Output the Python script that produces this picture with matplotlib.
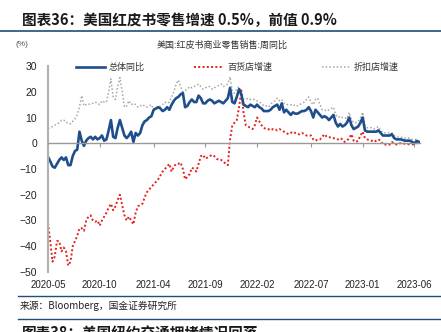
import numpy as np
import matplotlib
matplotlib.use("Agg")
import matplotlib.pyplot as plt
import matplotlib.transforms as mtransforms

plt.rcParams['font.family'] = ['Noto Sans CJK SC', 'DejaVu Sans']

# weekly y/y growth (%), 2020-05 .. 2023-06
total_yoy = [
    -5.3, -7, -9, -9.5, -8, -6.5, -5.5, -6.5, -5.5, -8.5,
    -8.5, -5, -3, -2.5, 4.5, 1, -1, 1, 2, 2.5,
    1.5, 2.5, 1.5, 2, 3, 1, 1.5, 5, 9, 2.5,
    2, 6, 9, 6, 3, 2, 3, 4.5, 0.5, 4,
    3, 4, 7, 8.5, 9, 10, 10.5, 13, 13.5, 14,
    13.5, 12.5, 13, 14, 13, 15, 16.5, 17.5, 18, 19,
    19.5, 14, 14.5, 16, 17, 16, 16, 18.5, 17.5, 15.5,
    15.5, 16.5, 17, 16.5, 15.5, 16, 16.5, 16, 15.5, 16.5,
    17.5, 21.5, 16, 15.5, 18, 21, 19, 15, 14.5, 14,
    15, 14.5, 14, 15, 14, 13.5, 12.5, 12.5, 12.5, 13,
    14, 14.5, 15, 13, 15.5, 12, 13, 12, 11, 12,
    11.5, 11.5, 12, 12.5, 12.5, 13, 14, 12.5, 10, 13,
    12, 11, 10, 10.5, 10, 9, 10, 11, 8, 6.5,
    7.5, 6.5, 7, 8, 10, 7, 5.5, 6, 6.5, 8,
    10, 5, 4.5, 4.5, 4.5, 4.5, 4.5, 5, 4, 3,
    3, 3, 3, 3.5, 2, 1.5, 1.5, 1.5, 1.2, 1,
    1, 1, 0.5, 0, 0.9, 0.5,
]
dept_store = [
    -31, -38, -46, -44, -38, -38, -42, -40.5, -42, -47.5,
    -46, -40, -38, -36, -33, -33, -34, -30, -28.5, -28,
    -30, -30.5, -30, -32, -30, -28.5, -27, -25, -23.5, -26,
    -24.5, -22, -20, -24, -28, -30, -28.5, -30, -31.5, -27,
    -24.5, -24, -23.5, -21, -19, -18, -17, -16, -15, -14,
    -12.5, -11, -10, -9, -8, -11, -9, -8, -8, -7.5,
    -10, -14, -13, -12, -9.5, -10, -11, -8, -5, -4.5,
    -6, -5.5, -5, -4.5, -5, -6, -6.5, -6.5, -7, -8,
    -8.5, 1.5, 7, 8, 9, 14, 20.5, 12, 7, 6.5,
    6, 5.5, 7, 10, 8.5, 7, 6, 5.5, 5.5, 5,
    5.5, 5.5, 5, 5.5, 5, 4.5, 4, 3.5, 4, 4.5,
    4, 3.5, 3.5, 4, 3.5, 3, 3, 3, 1.5, 1,
    1.5, 1.5, 2.5, 3.5, 2.5, 2.5, 2, 2, 1.5, 1.5,
    2, 1.5, 0.5, 1, 2, 3.5, 1, 0.5, 1, 3,
    4.5, 2, 1.5, 1.2, 1, 0.5, 1, 1.5, 1, -0.5,
    -0.5, -0.7, -0.5, 0.5, 0, -0.5, 0, 0, 0, -0.3,
    -0.3, -0.5, -0.5, -0.3, 0, 0.3,
]
discount_store = [
    5.7, 6, 6.5, 7, 7.5, 8, 9, 9, 8, 8,
    7.5, 8.5, 9.5, 11, 14, 18.5, 14.5, 15, 15, 15.5,
    15.5, 16, 15.5, 15, 16.5, 16, 16, 20, 25, 18,
    17, 22, 25.5, 20, 14, 14.5, 16.5, 15, 15.5, 15,
    14, 14.5, 15, 14.5, 14, 14.5, 15, 13, 13.5, 13.5,
    14.5, 15, 16, 15.5, 16, 18, 20, 23, 24.5, 22,
    20, 20.5, 21, 22, 21.5, 22, 22.5, 23, 22, 21,
    21.5, 22, 22, 21, 21.5, 22, 22.5, 23, 22, 22.5,
    23, 25.8, 20, 19.5, 21, 22, 19, 17, 17, 17.5,
    17, 17, 17, 16.5, 16, 15.5, 14.5, 14.5, 14, 15,
    16, 16.5, 17.5, 16.5, 17, 15.5, 15, 15, 15, 14.5,
    15, 14.5, 15, 15.5, 16, 17, 18, 16, 15, 17,
    17.5, 15, 13, 13, 12.5, 13, 13.5, 14, 11, 10,
    10.5, 10, 10, 9.5, 12, 9, 8, 8, 8.5, 10,
    12, 7, 6, 6, 6, 5.5, 6, 6.5, 5, 4,
    4, 4, 4, 4, 3, 2.5, 2.5, 2.5, 2, 2,
    2, 2, 1.5, 1.5, 1.5, 0.8,
]
tick_pos = [0, 23, 47, 70, 93, 117, 140, 163]
tick_labels = ['2020-05', '2020-10', '2021-04', '2021-09',
               '2022-02', '2022-07', '2023-01', '2023-06']

weeks = np.arange(len(total_yoy))

fig = plt.figure(figsize=(4.41, 3.32), dpi=100)
fig.patch.set_facecolor('white')

# header
fig.text(22 / 441, 1 - 20 / 332, '图表36：美国红皮书零售增速 0.5%，前值 0.9%',
         fontsize=10.5, fontweight='bold', color='#1a1a1a', va='center', ha='left')
fig.add_artist(plt.Line2D([0, 1], [1 - 31 / 332] * 2, color='#1f4e79', lw=1.2))
fig.text(15 / 441, 1 - 45 / 332, '(%)', fontsize=6, color='#555555', va='center',
         family=['Liberation Sans', 'DejaVu Sans'])
fig.text(222 / 441, 1 - 45 / 332, '美国:红皮书商业零售销售:周同比', fontsize=6.5,
         color='#333333', va='center', ha='center')

ax = fig.add_axes([48 / 441, 1 - 272 / 332, (420 - 48) / 441, (272 - 66) / 332])
ax.plot(weeks, discount_store, color='#a6a6a6', lw=1.1, ls=(0, (1, 1.4)), label='折扣店增速')
ax.plot(weeks, dept_store, color='#e3211c', lw=1.4, ls=(0, (1, 1.2)), label='百货店增速')
ax.plot(weeks, total_yoy, color='#1f4e8c', lw=1.9, label='总体同比')

ax.set_xlim(0, len(weeks) - 0.5)
ax.set_ylim(-50, 30)
ax.set_yticks(np.arange(-50, 31, 10))
ax.tick_params(axis='y', length=0, labelsize=7.5, pad=8, labelcolor='#222222')
for lab in ax.get_yticklabels():
    lab.set_family(['Liberation Sans', 'DejaVu Sans'])

for s in ['top', 'right']:
    ax.spines[s].set_visible(False)
ax.spines['left'].set_color('#b0b0b0')
ax.spines['left'].set_linewidth(1.5)
ax.spines['bottom'].set_position(('data', 0))
ax.spines['bottom'].set_color('#999999')
ax.spines['bottom'].set_linewidth(1.0)
ax.set_xticks(tick_pos)
ax.set_xticklabels([])
ax.tick_params(axis='x', direction='out', length=3, color='#999999')

trans = mtransforms.blended_transform_factory(ax.transData, ax.transAxes)
for p, lab in zip(tick_pos, tick_labels):
    ax.text(p, -0.062, lab, transform=trans, ha='center', va='center', fontsize=7,
            color='#222222', family=['Liberation Sans', 'DejaVu Sans'])

# legend laid out in one row above the lines
handles, labels = ax.get_legend_handles_labels()
order = [2, 1, 0]
leg = ax.legend([handles[i] for i in order], [labels[i] for i in order],
                loc='upper center', bbox_to_anchor=(0.51, 1.055), ncol=3, frameon=False,
                fontsize=6.5, handlelength=3.2, columnspacing=5.5, handletextpad=0.4)
for t in leg.get_texts():
    t.set_color('#333333')

# footer
fig.add_artist(plt.Line2D([18 / 441, 1], [1 - 296 / 332] * 2, color='#1f4e79', lw=1.0))
fig.text(20 / 441, 1 - 306 / 332, '来源：Bloomberg，国金证券研究所', fontsize=7,
         color='#222222', va='center', ha='left')
fig.add_artist(plt.Line2D([18 / 441, 1], [1 - 319 / 332] * 2, color='#1f4e79', lw=1.0))
fig.text(22 / 441, 1 - 334 / 332, '图表38：美国纽约交通拥堵情况回落', fontsize=10.5,
         fontweight='bold', color='#1a1a1a', va='center', ha='left')

fig.savefig('out.png', dpi=100)
